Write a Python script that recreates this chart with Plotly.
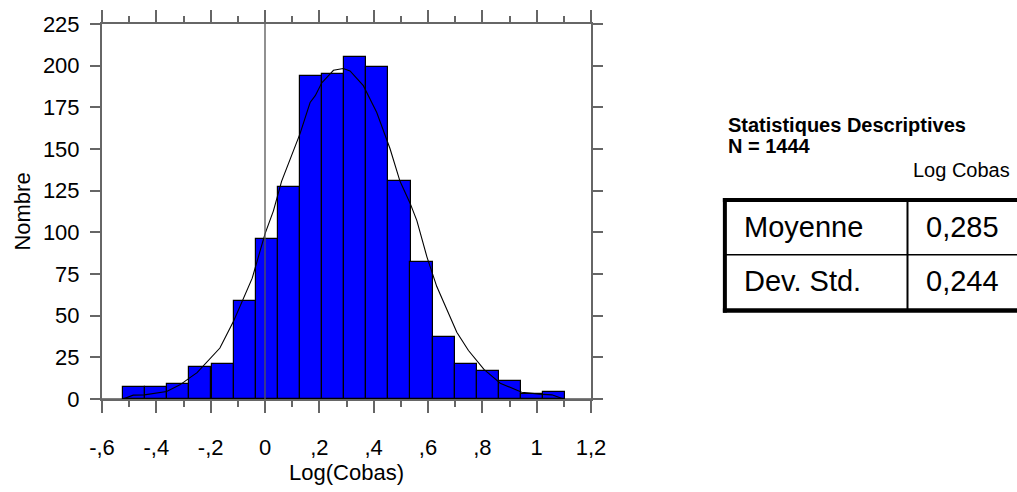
import plotly.graph_objects as go

# ---- data ----
bin_centers = [-0.482, -0.401, -0.319, -0.238, -0.156, -0.075, 0.006, 0.088, 0.169, 0.251,
               0.332, 0.413, 0.495, 0.576, 0.658, 0.739, 0.820, 0.902, 0.983, 1.065]
bin_width = 0.0814
counts = [7, 7, 9, 19, 21, 59, 96, 127, 194, 195, 205, 199, 131, 82, 37, 21, 17, 11, 3, 4]

curve_x = [-0.600, -0.523, -0.485, -0.444, -0.362, -0.313, -0.271, -0.250, -0.166, -0.115,
           -0.047, 0.000, 0.031, 0.061, 0.129, 0.166, 0.185, 0.209, 0.252, 0.288, 0.313,
           0.362, 0.411, 0.460, 0.497, 0.534, 0.559, 0.596, 0.632, 0.681, 0.706, 0.749,
           0.806, 0.866, 0.945, 1.010, 1.056, 1.099, 1.200]
curve_y = [0, 0, 2.3, 2.5, 4.5, 8.5, 13.4, 15.8, 30.6, 46.9,
           72.5, 99.1, 112.9, 130.6, 159.2, 177.9, 182.0, 189.7, 197.2, 198.3, 196.8,
           188.0, 172.0, 150.3, 130.6, 117.5, 107.0, 85.3, 67.6, 49.8, 40.0, 29.1,
           17.8, 9.5, 4.0, 2.9, 2.5, 0, 0]

x_range = [-0.6, 1.2]
x_tick_vals = [-0.6, -0.4, -0.2, 0, 0.2, 0.4, 0.6, 0.8, 1.0, 1.2]
x_tick_text = ["-,6", "-,4", "-,2", "0", ",2", ",4", ",6", ",8", "1", "1,2"]
y_range = [0, 225]
y_tick_vals = [0, 25, 50, 75, 100, 125, 150, 175, 200, 225]
ref_line_x = 0

stats_title = "Statistiques Descriptives"
stats_n = "N = 1444"
stats_col = "Log Cobas"
stats_rows = ["Moyenne", "Dev. Std."]
stats_vals = ["0,285", "0,244"]

# ---- layout geometry (pixels) ----
W, H = 1017, 492
L, R, T, B = 102, 590.7, 24, 404.3

def px(xp):
    return (xp - L) / (R - L)

def py(yp):
    return (B - yp) / (B - T)

FONT = "Liberation Sans, Arial, sans-serif"
AX = "#666666"

fig = go.Figure()
fig.add_trace(go.Bar(
    x=bin_centers, y=counts, width=bin_width,
    marker=dict(color="#0000ff", line=dict(color="black", width=1.2)),
    showlegend=False, hoverinfo="x+y"))
fig.add_trace(go.Scatter(
    x=curve_x, y=curve_y, mode="lines",
    line=dict(color="black", width=1.1), showlegend=False))
# invisible copy on the top axis so its ticks are drawn
fig.add_trace(go.Scatter(
    x=curve_x, y=curve_y, xaxis="x2", mode="lines", opacity=0,
    line=dict(width=0), showlegend=False, hoverinfo="skip"))

fig.add_shape(type="line", xref="x", yref="paper", x0=ref_line_x, x1=ref_line_x,
              y0=0, y1=1, line=dict(color="#555555", width=1.3), layer="above")

common_x = dict(
    range=x_range, tickmode="array", tickvals=x_tick_vals,
    showgrid=False, zeroline=False, showline=True, linecolor=AX, linewidth=2,
    ticks="outside", ticklen=12, tickwidth=1.5, tickcolor=AX,
    minor=dict(dtick=0.1, tick0=0, ticks="outside", ticklen=6, tickwidth=1.5,
               tickcolor=AX, showgrid=False),
)

fig.update_layout(
    width=W, height=H,
    margin=dict(l=L, r=W - R, t=T, b=H - B, pad=0),
    paper_bgcolor="white", plot_bgcolor="white",
    font=dict(family=FONT, size=22, color="black"),
    bargap=0,
    xaxis=dict(
        **common_x, ticktext=x_tick_text, mirror=False,
        ticklabelstandoff=16,
        tickfont=dict(size=22, family=FONT),
        title=dict(text="Log(Cobas)", font=dict(size=22, family=FONT), standoff=4),
    ),
    xaxis2=dict(**common_x, overlaying="x", side="top", showticklabels=False),
    yaxis=dict(
        range=y_range, tickmode="array", tickvals=y_tick_vals,
        showgrid=False, zeroline=False, showline=True, linecolor=AX, linewidth=2,
        mirror="ticks", ticks="outside", ticklen=10, tickwidth=1.5, tickcolor=AX,
        ticklabelstandoff=6,
        tickfont=dict(size=22, family=FONT),
        title=dict(text="Nombre", font=dict(size=22, family=FONT), standoff=6),
    ),
)

# ---- statistics table ----
def ann(text, xp, yp, size, bold=False, xanchor="left"):
    fig.add_annotation(
        text=f"<b>{text}</b>" if bold else text,
        xref="paper", yref="paper", x=px(xp), y=py(yp),
        xanchor=xanchor, yanchor="middle", showarrow=False,
        font=dict(family=FONT, size=size, color="black"))

ann(stats_title, 726, 126, 20, bold=True)
ann(stats_n, 726, 148, 20, bold=True)
ann(stats_col, 1011, 172, 20, xanchor="right")
row_y = [230, 285]
for name, val, yy in zip(stats_rows, stats_vals, row_y):
    ann(name, 742, yy, 29)
    ann(val, 923, yy, 29)

def pline(x0, y0, x1, y1, w):
    fig.add_shape(type="line", xref="paper", yref="paper",
                  x0=px(x0), y0=py(y0), x1=px(x1), y1=py(y1),
                  line=dict(color="black", width=w))

pline(722.5, 202.5, 1030, 202.5, 4)    # top
pline(722.5, 314.5, 1030, 314.5, 4.5)  # bottom
pline(724.5, 200.5, 724.5, 316.7, 4)   # left
pline(724.5, 258, 1030, 258, 1.5)      # middle
pline(907, 202, 907, 314, 2)           # column separator

fig.write_html("out.html", config={"displayModeBar": False},
               post_script="document.body.style.margin='0';")
